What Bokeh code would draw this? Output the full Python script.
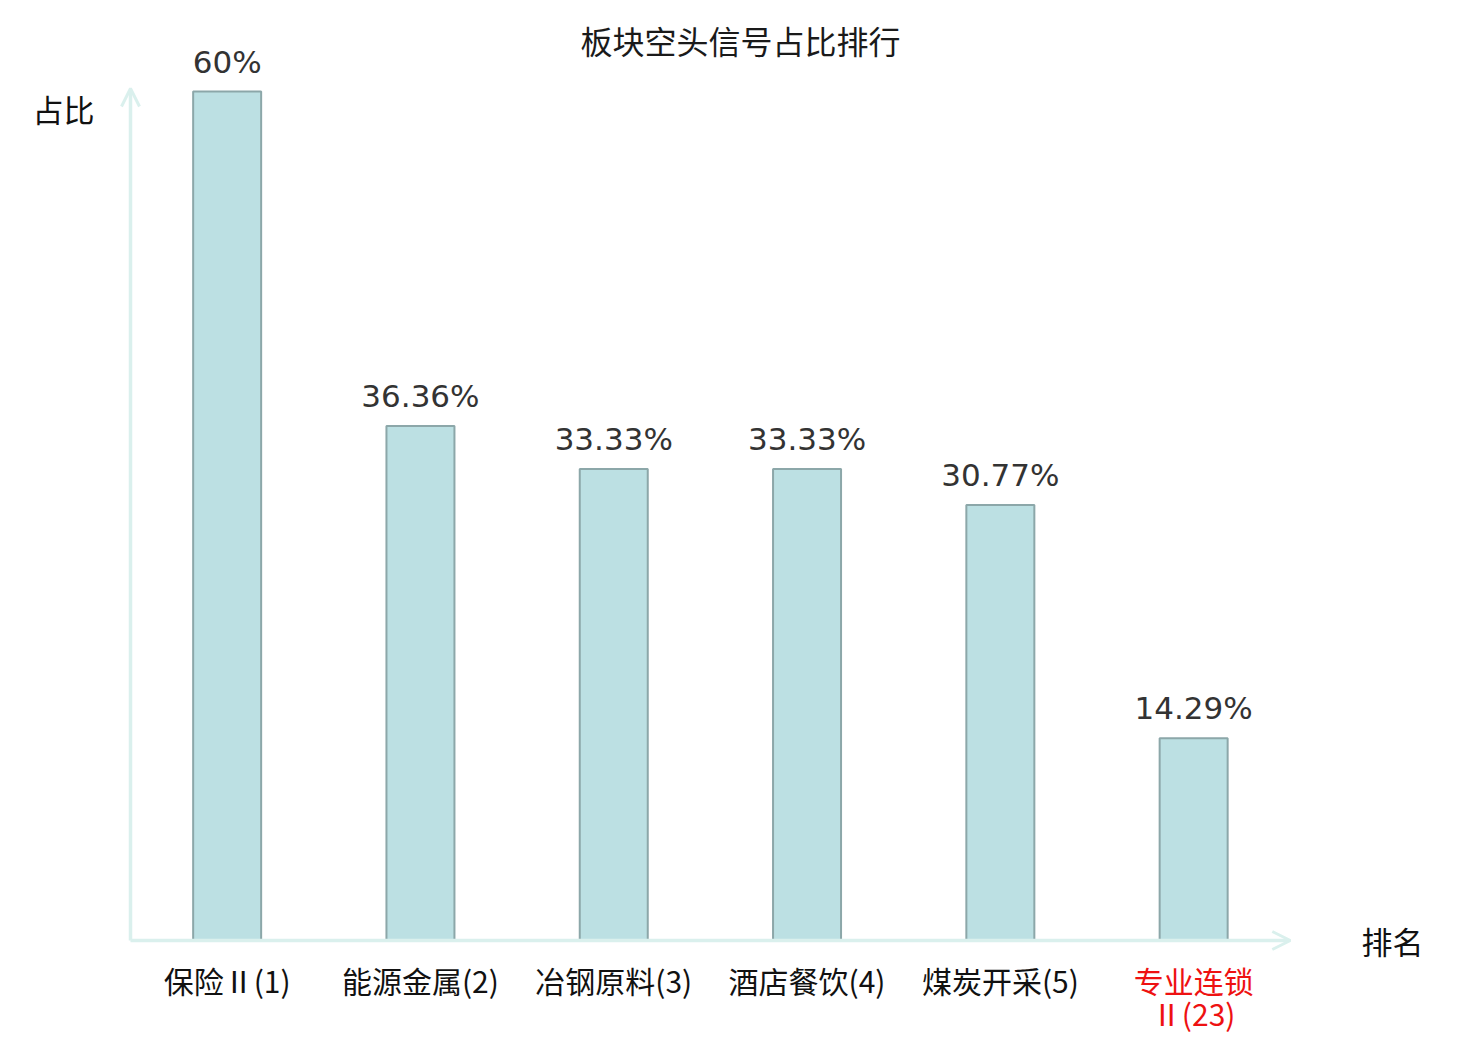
from bokeh.plotting import figure
from bokeh.models import Range1d, Label, Arrow, OpenHead, ColumnDataSource
from bokeh.embed import file_html
from bokeh.resources import INLINE
from bokeh.core.properties import value

# ---- data ----
title_text = "板块空头信号占比排行"
categories = ["保险Ⅱ(1)", "能源金属(2)", "冶钢原料(3)", "酒店餐饮(4)", "煤炭开采(5)", "专业连锁\nⅡ(23)"]
shares = [60, 36.36, 33.33, 33.33, 30.77, 14.29]
share_labels = ["60%", "36.36%", "33.33%", "33.33%", "30.77%", "14.29%"]
label_colors = ["#111111", "#111111", "#111111", "#111111", "#111111", "#ee1111"]
y_name = "占比"
x_name = "排名"

# ---- layout (page pixels) ----
W, H = 1480, 1040
MARGIN = 0
X0_PAGE = 130.0          # left edge of category band 0
BAND = 193.3             # category band width in px
Y0_PAGE = 940.0          # baseline (value 0)
PX_PER_UNIT = 849.0 / 60  # px per percent

x_start = -0.5 - (X0_PAGE - MARGIN) / BAND
x_end = x_start + W / BAND
y_start = -(MARGIN + H - Y0_PAGE) / PX_PER_UNIT
y_end = y_start + H / PX_PER_UNIT


def px2x(px):
    return x_start + (px - MARGIN) * (x_end - x_start) / W


def py2y(py):
    return y_end - (py - MARGIN) * (y_end - y_start) / H


p = figure(width=W, height=H, output_backend="svg", toolbar_location=None,
           x_range=Range1d(x_start, x_end), y_range=Range1d(y_start, y_end),
           min_border=0, x_axis_location=None, y_axis_location=None)
p.grid.visible = False
p.outline_line_color = None
p.background_fill_color = "white"
p.border_fill_color = "white"

idx = list(range(len(categories)))
src = ColumnDataSource(dict(x=idx, top=shares, lab=share_labels, cat=categories, col=label_colors))

AXIS_COL = "#daf0ed"
# axes with arrows
p.add_layout(Arrow(x_start=-0.5, y_start=0, x_end=len(categories) - 0.5, y_end=0,
                   line_color=AXIS_COL, line_width=3.5,
                   end=OpenHead(size=18, line_color=AXIS_COL, line_width=3)))
p.add_layout(Arrow(x_start=-0.5, y_start=0, x_end=-0.5, y_end=py2y(88),
                   line_color=AXIS_COL, line_width=3.5,
                   end=OpenHead(size=18, line_color=AXIS_COL, line_width=3)))

p.vbar(x="x", top="top", bottom=0, width=68 / BAND, source=src,
       fill_color="#bce0e3", line_color="#8ca7a9", line_width=2)

p.text(x="x", y="top", text="lab", source=src, text_align="center",
       text_baseline="alphabetic", y_offset=-30,
       text_font=value("DejaVu Sans"), text_font_size="31px", text_color="#333333")

p.text(x="x", y=py2y(957), text="cat", source=src, text_align="center",
       text_baseline="top", text_line_height=0.75,
       text_font=value("Noto Sans CJK SC"), text_font_size="30px", text_color="col")

p.add_layout(Label(x=px2x(740), y=py2y(39), text=title_text, text_align="center",
                   text_baseline="middle", text_font="Noto Sans CJK SC",
                   text_font_size="32px", text_color="#1a1a1a"))
p.add_layout(Label(x=px2x(63), y=py2y(108), text=y_name, text_align="center",
                   text_baseline="middle", text_font="Noto Sans CJK SC",
                   text_font_size="31px", text_color="#111111"))
p.add_layout(Label(x=px2x(1392), y=py2y(940), text=x_name, text_align="center",
                   text_baseline="middle", text_font="Noto Sans CJK SC",
                   text_font_size="31px", text_color="#111111"))

open("out.html", "w").write(file_html(p, INLINE))
